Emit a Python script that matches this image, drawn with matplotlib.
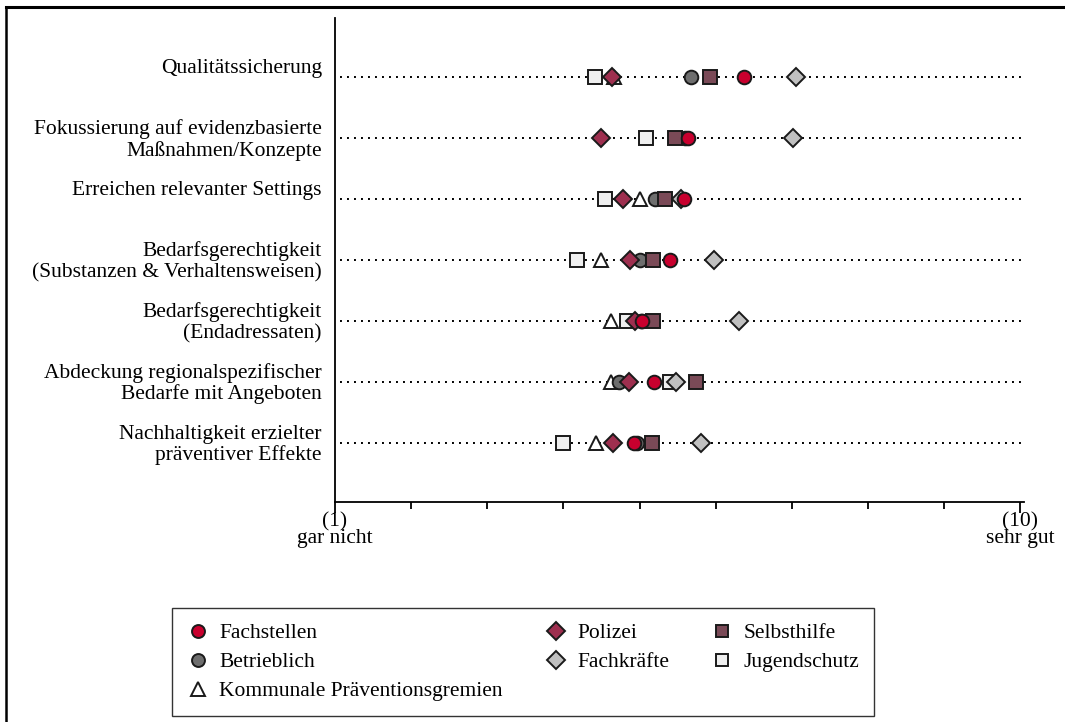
import numpy as np
import matplotlib
matplotlib.use("Agg")
import matplotlib.pyplot as plt
from matplotlib.lines import Line2D

plt.rcParams["font.family"] = ["Liberation Serif", "DejaVu Serif"]

# items (top to bottom)
items = [
    "Qualitätssicherung",
    "Fokussierung auf evidenzbasierte\nMaßnahmen/Konzepte",
    "Erreichen relevanter Settings",
    "Bedarfsgerechtigkeit\n(Substanzen & Verhaltensweisen)",
    "Bedarfsgerechtigkeit\n(Endadressaten)",
    "Abdeckung regionalspezifischer\nBedarfe mit Angeboten",
    "Nachhaltigkeit erzielter\npräventiver Effekte",
]

# mean ratings per group (1 = gar nicht ... 10 = sehr gut)
fachstellen = [6.37, 5.63, 5.58, 5.40, 5.03, 5.19, 4.92]
betrieblich = [5.67, 5.60, 5.20, 5.00, 5.02, 4.73, 4.96]
kommunale = [4.66, np.nan, 5.00, 4.49, 4.62, 4.63, 4.43]
polizei = [4.64, 4.49, 4.78, 4.88, 4.94, 4.86, 4.65]
fachkraefte = [7.06, 7.01, 5.55, 5.98, 6.30, 5.48, 5.81]
selbsthilfe = [5.93, 5.46, 5.34, 5.17, 5.17, 5.74, 5.16]
jugendschutz = [4.42, 5.09, 4.54, 4.18, 4.84, 5.40, 4.00]

# (label, values, marker, size, face colour, zorder)
groups = [
    ("Fachstellen", fachstellen, "o", 9.8, "#C8002E", 9),
    ("Betrieblich", betrieblich, "o", 9.8, "#6E6E6E", 5),
    ("Kommunale Präventionsgremien", kommunale, "^", 10.5, "white", 3),
    ("Polizei", polizei, "D", 9.6, "#9E2F4F", 8),
    ("Fachkräfte", fachkraefte, "D", 9.6, "#C0C0C0", 7),
    ("Selbsthilfe", selbsthilfe, "s", 9.8, "#7A4A57", 6),
    ("Jugendschutz", jugendschutz, "s", 9.8, "#EFEFEF", 4),
]

FS = 15.5
EDGE = "#1a1a1a"

fig = plt.figure(figsize=(10.65, 7.22), dpi=100)
ax = fig.add_axes([0.3146, 0.3047, 0.647, 0.6703])

y = np.arange(len(items))
ax.hlines(y, 1.07, 10.03, colors="black", linestyles=(0, (1, 2.6)), linewidth=1.4, zorder=1)

for label, vals, mk, ms, col, z in groups:
    ax.plot(vals, y, linestyle="none", marker=mk, markersize=ms,
            markerfacecolor=col, markeredgecolor=EDGE, markeredgewidth=1.4,
            zorder=z, clip_on=False)

ax.set_xlim(1, 10.05)
ax.set_ylim(6.97, -0.97)

for s in ["top", "right"]:
    ax.spines[s].set_visible(False)
ax.spines["left"].set_linewidth(1.3)
ax.spines["bottom"].set_linewidth(1.3)

ax.set_yticks([])
ax.set_xticks([1, 10])
ax.set_xticklabels([])
ax.set_xticks(np.arange(2, 10), minor=True)
ax.tick_params(axis="x", which="major", length=8, width=1.3, direction="out")
ax.tick_params(axis="x", which="minor", length=5, width=1.3, direction="out")

# x end labels
for xv, top, bottom in [(1, "(1)", "gar nicht"), (10, "(10)", "sehr gut")]:
    ax.annotate(top, xy=(xv, 0), xycoords=("data", "axes fraction"),
                xytext=(0, -17.3), textcoords="offset points",
                ha="center", va="baseline", fontsize=FS)
    ax.annotate(bottom, xy=(xv, 0), xycoords=("data", "axes fraction"),
                xytext=(0, -29.8), textcoords="offset points",
                ha="center", va="baseline", fontsize=FS)

# item labels, first line sits just above the dotted line
for i, txt in enumerate(items):
    for j, line in enumerate(txt.split("\n")):
        ax.annotate(line, xy=(0, i), xycoords=("axes fraction", "data"),
                    xytext=(-9.4, 2.9 - 15.5 * j), textcoords="offset points",
                    ha="right", va="baseline", fontsize=FS)

# legend
handles = [Line2D([], [], linestyle="none", marker=mk, markersize=ms * 0.95,
                  markerfacecolor=col, markeredgecolor=EDGE, markeredgewidth=1.4)
           for _, _, mk, ms, col, _ in groups]
labels = [g[0] for g in groups]
leg = fig.legend(handles, labels, ncol=3, loc="upper left",
                 bbox_to_anchor=(172 / 1065, 1 - 608 / 722),
                 fontsize=FS, frameon=True, fancybox=False, edgecolor="black",
                 handlelength=1.0, handletextpad=0.5, columnspacing=1.95,
                 labelspacing=0.42, borderpad=0.7, borderaxespad=0)
leg.get_frame().set_linewidth(1.0)

# outer frame (top and left edge visible)
fig.add_artist(Line2D([6 / 1065, 1.0], [1 - 7 / 722, 1 - 7 / 722],
                      transform=fig.transFigure, color="black", linewidth=2.2))
fig.add_artist(Line2D([6 / 1065, 6 / 1065], [0.0, 1 - 7 / 722],
                      transform=fig.transFigure, color="black", linewidth=1.8))

fig.savefig("out.png", dpi=100)
